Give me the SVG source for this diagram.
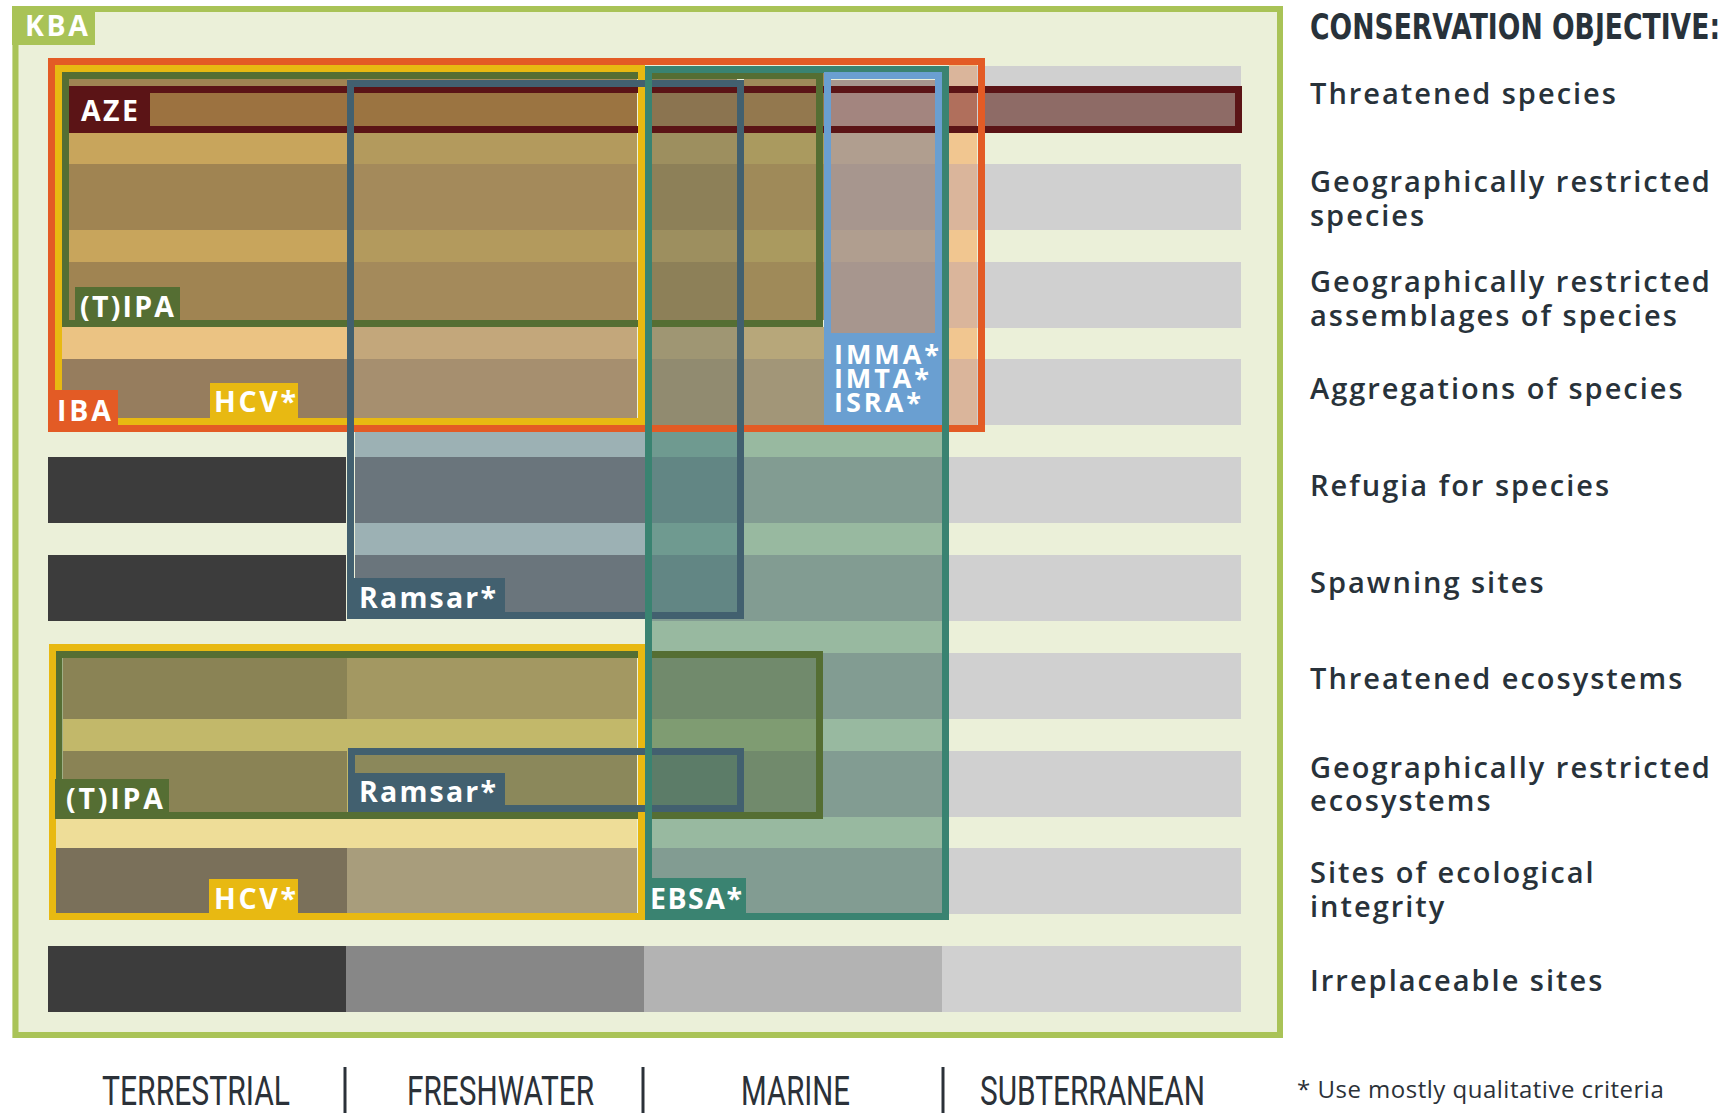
<svg xmlns="http://www.w3.org/2000/svg" width="1729" height="1113" viewBox="0 0 1729 1113">
<style>
.lbl{font-family:"Open Sans","DejaVu Sans",sans-serif;font-weight:700;font-size:28.5px;fill:#ffffff;}
.lbs{font-family:"Open Sans","DejaVu Sans",sans-serif;font-weight:700;font-size:27px;fill:#ffffff;}
.obj{font-family:"Open Sans","DejaVu Sans",sans-serif;font-weight:600;font-size:29px;fill:#28323a;letter-spacing:2px;}
.foot{font-family:Roboto,"DejaVu Sans",sans-serif;font-weight:400;font-size:40px;fill:#2b3138;}
.note{font-family:"Open Sans","DejaVu Sans",sans-serif;font-weight:400;font-size:24px;fill:#2b3138;letter-spacing:0.5px;}
.hdr{font-family:"DejaVu Sans",Roboto,sans-serif;font-weight:700;font-size:36px;fill:#28323a;}
.box{fill:none;stroke-width:7;}
</style>
<rect x="0" y="0" width="1729" height="1113" fill="#ffffff"/>
<rect x="12" y="6" width="1271" height="1032" fill="#ebf0d9"/>
<g id="cells">
<g fill="#d0d0d0">
<rect x="942" y="66" width="299" height="66"/><rect x="942" y="164" width="299" height="66"/><rect x="942" y="262" width="299" height="66"/><rect x="942" y="359" width="299" height="66"/><rect x="942" y="457" width="299" height="66"/><rect x="942" y="555" width="299" height="66"/><rect x="942" y="653" width="299" height="66"/><rect x="942" y="751" width="299" height="66"/><rect x="942" y="848" width="299" height="66"/><rect x="942" y="946" width="299" height="66"/>
</g>
<g fill="#3c3c3c"><rect x="48" y="457" width="298" height="66"/><rect x="48" y="555" width="298" height="66"/><rect x="48" y="946" width="298" height="66"/></g>
<rect x="346" y="946" width="298" height="66" fill="#878787"/>
<rect x="644" y="946" width="298" height="66" fill="#b3b3b3"/>
<rect x="69" y="78" width="278" height="242" fill="#c8a55c"/>
<g fill="#a08452"><rect x="69" y="78" width="278" height="54"/><rect x="69" y="164" width="278" height="66"/><rect x="69" y="262" width="278" height="58"/></g>
<rect x="62" y="327" width="285" height="91" fill="#ebc383"/>
<rect x="62" y="359" width="285" height="59" fill="#967d5e"/>
<rect x="347" y="78" width="290" height="242" fill="#b39a5d"/>
<g fill="#a48a5b"><rect x="347" y="78" width="290" height="54"/><rect x="347" y="164" width="290" height="66"/><rect x="347" y="262" width="290" height="58"/></g>
<rect x="347" y="327" width="290" height="91" fill="#c3a77b"/>
<rect x="347" y="359" width="290" height="59" fill="#a68f6f"/>
<rect x="652" y="72" width="85" height="248" fill="#9d8f5f"/>
<g fill="#8d8058"><rect x="652" y="72" width="85" height="60"/><rect x="652" y="164" width="85" height="66"/><rect x="652" y="262" width="85" height="58"/></g>
<rect x="652" y="327" width="85" height="98" fill="#9f9673"/>
<rect x="652" y="359" width="85" height="66" fill="#918b70"/>
<rect x="744" y="72" width="80" height="248" fill="#aa9a5f"/>
<g fill="#9f8a59"><rect x="744" y="72" width="80" height="60"/><rect x="744" y="164" width="80" height="66"/><rect x="744" y="262" width="80" height="58"/></g>
<rect x="744" y="327" width="80" height="98" fill="#b7a77a"/>
<rect x="744" y="359" width="80" height="66" fill="#a29678"/>
<rect x="831" y="80" width="104" height="253" fill="#b09e8f"/>
<g fill="#a7968e"><rect x="831" y="80" width="104" height="52"/><rect x="831" y="164" width="104" height="66"/><rect x="831" y="262" width="104" height="71"/></g>
<rect x="949" y="65" width="28" height="360" fill="#f1c690"/>
<g fill="#dab59b"><rect x="949" y="66" width="28" height="66"/><rect x="949" y="164" width="28" height="66"/><rect x="949" y="262" width="28" height="66"/><rect x="949" y="359" width="28" height="66"/></g>
<rect x="69" y="93" width="278" height="33" fill="#9c7240"/>
<rect x="347" y="93" width="290" height="33" fill="#9b7441"/>
<rect x="652" y="93" width="85" height="33" fill="#8b7450"/>
<rect x="744" y="93" width="80" height="33" fill="#93784e"/>
<rect x="831" y="93" width="104" height="33" fill="#a3857f"/>
<rect x="949" y="93" width="28" height="33" fill="#b06f5c"/>
<rect x="985" y="93" width="250" height="33" fill="#8e6b66"/>
<rect x="652" y="432" width="290" height="481" fill="#98b9a0"/>
<g fill="#829c92"><rect x="652" y="457" width="290" height="66"/><rect x="652" y="555" width="290" height="66"/><rect x="652" y="653" width="290" height="66"/><rect x="652" y="751" width="290" height="66"/><rect x="652" y="848" width="290" height="65"/></g>
<rect x="355" y="432" width="290" height="181" fill="#9cb1b4"/>
<g fill="#6a757c"><rect x="355" y="457" width="290" height="66"/><rect x="355" y="555" width="290" height="58"/></g>
<rect x="652" y="432" width="85" height="181" fill="#6f9a90"/>
<g fill="#628684"><rect x="652" y="457" width="85" height="66"/><rect x="652" y="555" width="85" height="58"/></g>
<rect x="63" y="658" width="284" height="155" fill="#c2b86a"/>
<g fill="#8a8355"><rect x="63" y="658" width="284" height="61"/><rect x="63" y="751" width="284" height="62"/></g>
<rect x="55" y="819" width="292" height="94" fill="#eedd98"/>
<rect x="55" y="848" width="292" height="65" fill="#7a705a"/>
<rect x="347" y="658" width="290" height="155" fill="#c2b86a"/>
<rect x="347" y="658" width="290" height="61" fill="#a39862"/>
<rect x="355" y="751" width="282" height="58" fill="#8b885b"/>
<rect x="347" y="819" width="290" height="94" fill="#eedd98"/>
<rect x="347" y="848" width="290" height="65" fill="#a89d7c"/>
<rect x="652" y="658" width="165" height="155" fill="#7f9c72"/>
<g fill="#718a6c"><rect x="652" y="658" width="165" height="61"/><rect x="652" y="751" width="165" height="62"/></g>
<rect x="652" y="751" width="85" height="58" fill="#5c7c68"/>
</g>
<g id="AZE">
<rect class="box" x="72.5" y="89.5" width="1166" height="40" stroke="#5b1416"/>
</g>
<g id="TIPA-species">
<rect class="box" x="65.5" y="75.5" width="754" height="248" stroke="#556e33"/>
</g>
<g id="TIPA-ecosystems">
<rect class="box" x="59" y="654.5" width="760.5" height="161" stroke="#556e33"/>
</g>
<g id="HCV-species">
<rect class="box" x="58.5" y="68.5" width="583" height="353" stroke="#e8b912"/>
</g>
<g id="HCV-ecosystems">
<rect class="box" x="52.5" y="647.5" width="589" height="269" stroke="#e8b912"/>
</g>
<g id="IBA">
<rect class="box" x="51.5" y="61.5" width="930" height="367" stroke="#e35b25"/>
</g>
<g id="Ramsar-species">
<rect class="box" x="350.5" y="83.5" width="390" height="532" stroke="#42606f"/>
</g>
<g id="Ramsar-ecosystems">
<rect class="box" x="351.5" y="751.5" width="389" height="57" stroke="#42606f"/>
</g>
<g id="EBSA">
<rect class="box" x="648.5" y="69.5" width="297" height="847" stroke="#3a8371"/>
</g>
<g id="IMMA">
<rect class="box" x="827.5" y="75.5" width="111" height="346" stroke="#6a9fd1"/>
<rect x="824" y="333" width="118" height="92" fill="#6a9fd1"/>
<text class="lbs" x="834" y="364" textLength="105" lengthAdjust="spacing">IMMA*</text>
<text class="lbs" x="834" y="388" textLength="95" lengthAdjust="spacing">IMTA*</text>
<text class="lbs" x="834" y="412" textLength="87" lengthAdjust="spacing">ISRA*</text>
</g>
<g id="KBA">
<rect x="15.5" y="9" width="1264.5" height="1026" fill="none" stroke="#a9c357" stroke-width="6"/>
<rect x="12" y="6" width="83" height="39" fill="#a9c357"/>
<text class="lbl" x="25" y="36" textLength="63" lengthAdjust="spacing">KBA</text>
</g>
<g id="labels">
<rect x="69" y="86" width="81" height="47" fill="#5b1416"/>
<text class="lbl" x="81" y="121" textLength="57" lengthAdjust="spacing">AZE</text>
<rect x="75" y="287" width="105" height="40" fill="#556e33"/>
<text class="lbl" x="80" y="317" textLength="94" lengthAdjust="spacing">(T)IPA</text>
<rect x="48" y="390" width="70" height="42" fill="#e35b25"/>
<text class="lbl" x="57" y="421" textLength="54" lengthAdjust="spacing">IBA</text>
<rect x="210" y="383" width="88" height="42" fill="#e8b912"/>
<text class="lbl" x="214" y="412" textLength="82" lengthAdjust="spacing">HCV*</text>
<rect x="348" y="578" width="157" height="41" fill="#42606f"/>
<text class="lbl" x="359" y="608" textLength="137" lengthAdjust="spacing">Ramsar*</text>
<rect x="348" y="773" width="157" height="39" fill="#42606f"/>
<text class="lbl" x="359" y="802" textLength="137" lengthAdjust="spacing">Ramsar*</text>
<rect x="55" y="779" width="114" height="40" fill="#556e33"/>
<text class="lbl" x="66" y="809" textLength="97" lengthAdjust="spacing">(T)IPA</text>
<rect x="209" y="879" width="89" height="41" fill="#e8b912"/>
<text class="lbl" x="214" y="909" textLength="82" lengthAdjust="spacing">HCV*</text>
<rect x="645" y="878" width="101" height="42" fill="#3a8371"/>
<text class="lbl" x="650" y="909" textLength="92" lengthAdjust="spacing">EBSA*</text>
</g>
<g id="objectives">
<text class="hdr" transform="translate(1310,39) scale(0.67,1)" x="0" y="0" textLength="612" lengthAdjust="spacingAndGlyphs">CONSERVATION OBJECTIVE:</text>
<text class="obj" x="1310" y="104">Threatened species</text>
<text class="obj" x="1310" y="192">Geographically restricted</text>
<text class="obj" x="1310" y="226">species</text>
<text class="obj" x="1310" y="292">Geographically restricted</text>
<text class="obj" x="1310" y="326">assemblages of species</text>
<text class="obj" x="1310" y="399">Aggregations of species</text>
<text class="obj" x="1310" y="496">Refugia for species</text>
<text class="obj" x="1310" y="593">Spawning sites</text>
<text class="obj" x="1310" y="689">Threatened ecosystems</text>
<text class="obj" x="1310" y="778">Geographically restricted</text>
<text class="obj" x="1310" y="811">ecosystems</text>
<text class="obj" x="1310" y="883">Sites of ecological</text>
<text class="obj" x="1310" y="917">integrity</text>
<text class="obj" x="1310" y="991">Irreplaceable sites</text>
</g>
<g id="realms">
<text class="foot" x="102" y="1105" textLength="188" lengthAdjust="spacingAndGlyphs">TERRESTRIAL</text>
<text class="foot" x="407" y="1105" textLength="187" lengthAdjust="spacingAndGlyphs">FRESHWATER</text>
<text class="foot" x="741" y="1105" textLength="109" lengthAdjust="spacingAndGlyphs">MARINE</text>
<text class="foot" x="980" y="1105" textLength="225" lengthAdjust="spacingAndGlyphs">SUBTERRANEAN</text>
<g stroke="#2b3138" stroke-width="3"><line x1="345" y1="1067" x2="345" y2="1113"/><line x1="643" y1="1067" x2="643" y2="1113"/><line x1="943" y1="1067" x2="943" y2="1113"/></g>
<text class="note" x="1297" y="1098">* Use mostly qualitative criteria</text>
</g>
</svg>
